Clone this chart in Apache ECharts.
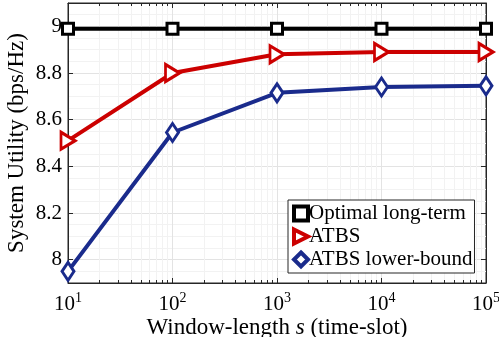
<!doctype html>
<html>
<head>
  <meta charset="utf-8">
  <script src="https://cdn.jsdelivr.net/npm/echarts@6/dist/echarts.min.js"></script>
  <style>
    html, body { margin: 0; padding: 0; background: #fff; }
    #chart { width: 499px; height: 337px; }
  </style>
</head>
<body>
  <div id="chart"></div>
  <script type="text/javascript">
    // window length s (time-slot)
    var windowLen = [10, 100, 1000, 10000, 100000];
    var optimalLT = [8.99, 8.99, 8.99, 8.99, 8.99];
    var atbs = [8.51, 8.80, 8.88, 8.89, 8.89];
    var atbsLower = [7.95, 8.545, 8.715, 8.74, 8.745];
    var seriesNames = ['Optimal long-term', 'ATBS', 'ATBS lower-bound'];
    var colors = ['#000000', '#cc0000', '#1a2b8c'];

    var font = 'Liberation Serif';
    var axisCol = '#262626';

    function pairs(ys) {
      var out = [];
      for (var i = 0; i < windowLen.length; i++) out.push([windowLen[i], ys[i]]);
      return out;
    }

    var myChart = echarts.init(document.getElementById('chart'));
    var option = {
      animation: false,
      grid: {
        left: 68, right: 13, top: 3, bottom: 54,
        outerBoundsMode: 'none',
        show: true, borderColor: axisCol, borderWidth: 1
      },
      xAxis: [{
        type: 'log',
        logBase: 10,
        min: 10,
        max: 100000,
        name: 'Window-length {i|s} (time-slot)',
        nameLocation: 'middle',
        nameMoveOverlap: false,
        nameGap: 33,
        nameTextStyle: {
          fontFamily: font, fontSize: 23, color: '#000',
          rich: { i: { fontFamily: font, fontSize: 23, fontStyle: 'italic', color: '#000' } }
        },
        axisLine: { lineStyle: { color: axisCol } },
        axisTick: { inside: true, length: 5, lineStyle: { color: axisCol } },
        minorTick: { show: true, splitNumber: 9, length: 3, lineStyle: { color: axisCol } },
        splitLine: { show: true, lineStyle: { color: '#e3e3e3' } },
        minorSplitLine: { show: true, lineStyle: { color: '#f2f2f2' } },
        axisLabel: {
          margin: 8,
          formatter: function (v) {
            return '10{sup|' + Math.round(Math.log10(v)) + '}';
          },
          fontFamily: font, fontSize: 21, color: '#000',
          rich: { sup: { fontFamily: font, fontSize: 14, color: '#000', padding: [0, 0, 12, 0] } }
        }
      }, {
        type: 'log',
        logBase: 10,
        min: 10,
        max: 100000,
        position: 'top',
        axisLine: { lineStyle: { color: axisCol } },
        axisTick: { inside: true, length: 5, lineStyle: { color: axisCol } },
        minorTick: { show: true, splitNumber: 9, length: 3, lineStyle: { color: axisCol } },
        axisLabel: { show: false },
        splitLine: { show: false }
      }],
      yAxis: [{
        type: 'value',
        min: 7.9,
        max: 9.1,
        splitNumber: 6,
        name: 'System Utility (bps/Hz)',
        nameLocation: 'middle',
        nameMoveOverlap: false,
        nameGap: 40,
        nameTextStyle: { fontFamily: font, fontSize: 23, color: '#000' },
        axisLine: { show: true, lineStyle: { color: axisCol } },
        axisTick: { show: true, inside: true, length: 5, lineStyle: { color: axisCol } },
        minorTick: { show: false, splitNumber: 4 },
        splitLine: { show: true, lineStyle: { color: '#e3e3e3' } },
        minorSplitLine: { show: true, lineStyle: { color: '#f2f2f2' } },
        axisLabel: {
          showMinLabel: false,
          showMaxLabel: false,
          margin: 6,
          fontFamily: font, fontSize: 21, color: '#000',
          formatter: function (v) { return String(Math.round(v * 10) / 10); }
        }
      }, {
        type: 'value',
        min: 7.9,
        max: 9.1,
        splitNumber: 6,
        position: 'right',
        axisLine: { show: true, lineStyle: { color: axisCol } },
        axisTick: { show: true, inside: true, length: 5, lineStyle: { color: axisCol } },
        axisLabel: { show: false },
        splitLine: { show: false }
      }],
      legend: {
        orient: 'vertical',
        left: 288,
        top: 200,
        padding: [3, 2, 3, 4],
        itemGap: 2,
        itemWidth: 14,
        itemHeight: 14,
        backgroundColor: '#fff',
        borderColor: axisCol,
        borderWidth: 1,
        borderRadius: 0,
        textStyle: { fontFamily: font, fontSize: 21, color: '#000', padding: [0, 0, 0, -4] },
        data: [
          { name: seriesNames[0], icon: 'rect', itemStyle: { color: '#fff', borderColor: colors[0], borderWidth: 4 } },
          { name: seriesNames[1], icon: 'path://M0,0 L12,6 L0,12 Z', itemStyle: { color: '#fff', borderColor: colors[1], borderWidth: 4 } },
          { name: seriesNames[2], icon: 'diamond', itemStyle: { color: '#fff', borderColor: colors[2], borderWidth: 4 } }
        ]
      },
      series: [{
        name: seriesNames[0],
        type: 'line',
        data: pairs(optimalLT),
        symbol: 'rect',
        symbolSize: 11,
        showAllSymbol: true,
        lineStyle: { color: colors[0], width: 4 },
        itemStyle: { color: '#fff', borderColor: colors[0], borderWidth: 3 },
        z: 3
      }, {
        name: seriesNames[1],
        type: 'line',
        data: pairs(atbs),
        symbol: 'triangle',
        symbolRotate: -90,
        symbolSize: [17, 14],
        lineStyle: { color: colors[1], width: 4 },
        itemStyle: { color: '#fff', borderColor: colors[1], borderWidth: 3 },
        z: 4
      }, {
        name: seriesNames[2],
        type: 'line',
        data: pairs(atbsLower),
        symbol: 'diamond',
        symbolSize: [12, 18],
        lineStyle: { color: colors[2], width: 4 },
        itemStyle: { color: '#fff', borderColor: colors[2], borderWidth: 3 },
        z: 5
      }]
    };
    myChart.setOption(option);
  </script>
</body>
</html>
